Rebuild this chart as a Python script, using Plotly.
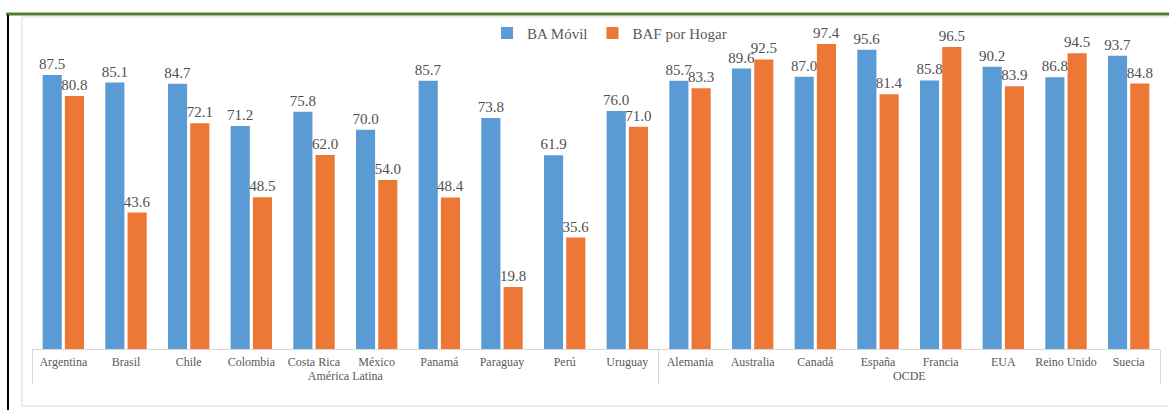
import plotly.graph_objects as go

# Regions and countries
regiones = ["América Latina"] * 10 + ["OCDE"] * 8
paises = ["Argentina", "Brasil", "Chile", "Colombia", "Costa Rica", "México",
          "Panamá", "Paraguay", "Perú", "Uruguay",
          "Alemania", "Australia", "Canadá", "España", "Francia", "EUA",
          "Reino Unido", "Suecia"]

# Penetration values
ba_movil = [87.5, 85.1, 84.7, 71.2, 75.8, 70.0, 85.7, 73.8, 61.9, 76.0,
            85.7, 89.6, 87.0, 95.6, 85.8, 90.2, 86.8, 93.7]
baf_hogar = [80.8, 43.6, 72.1, 48.5, 62.0, 54.0, 48.4, 19.8, 35.6, 71.0,
             83.3, 92.5, 97.4, 81.4, 96.5, 83.9, 94.5, 84.8]

FONT = "Liberation Serif"
x = [regiones, paises]

fig = go.Figure()
fig.add_trace(go.Bar(
    x=x, y=ba_movil, name="BA Móvil",
    marker=dict(color="#5b9bd5", line=dict(width=0)),
    texttemplate="%{y:.1f}", textposition="outside", constraintext="none",
    textfont=dict(family=FONT, size=15, color="#505050"),
    cliponaxis=False,
))
fig.add_trace(go.Bar(
    x=x, y=baf_hogar, name="BAF por Hogar",
    marker=dict(color="#ed7734", line=dict(width=0)),
    texttemplate="%{y:.1f}", textposition="outside", constraintext="none",
    textfont=dict(family=FONT, size=15, color="#505050"),
    cliponaxis=False,
))

fig.update_layout(
    width=1169, height=410,
    margin=dict(l=32, r=9, t=30, b=61, autoexpand=False),
    paper_bgcolor="white", plot_bgcolor="white",
    barmode="group", bargap=0.29, bargroupgap=0.14,
    font=dict(family=FONT, color="#595959"),
    showlegend=True,
    legend=dict(orientation="h", x=0.512, xanchor="center", y=0.99, yanchor="middle",
                font=dict(family=FONT, size=15, color="#595959"),
                bgcolor="rgba(0,0,0,0)", itemwidth=30),
    xaxis=dict(type="multicategory", showline=True, linecolor="#d9d9d9", linewidth=1,
               ticks="", tickangle=0, automargin=False, showgrid=False,
               ticklabelstandoff=2,
               showdividers=True, dividercolor="#d9d9d9", dividerwidth=1,
               tickfont=dict(family=FONT, size=12, color="#595959")),
    yaxis=dict(visible=False, range=[0, 101.9], showgrid=False, zeroline=False,
               automargin=False),
    shapes=[
        # green top rule
        dict(type="line", xref="paper", yref="paper", x0=-0.023, x1=1.01, y0=1.050, y1=1.050,
             line=dict(color="#507e32", width=3)),
        # black left rule
        dict(type="line", xref="paper", yref="paper", x0=-0.0213, x1=-0.0213, y0=1.047, y1=-0.2,
             line=dict(color="black", width=2)),
        # light chart frame
        dict(type="rect", xref="paper", yref="paper", x0=-0.0089, x1=1.02, y0=-0.1787, y1=1.0408,
             line=dict(color="#d9d9d9", width=1), layer="below"),
    ],
)

fig.write_html("out.html")
